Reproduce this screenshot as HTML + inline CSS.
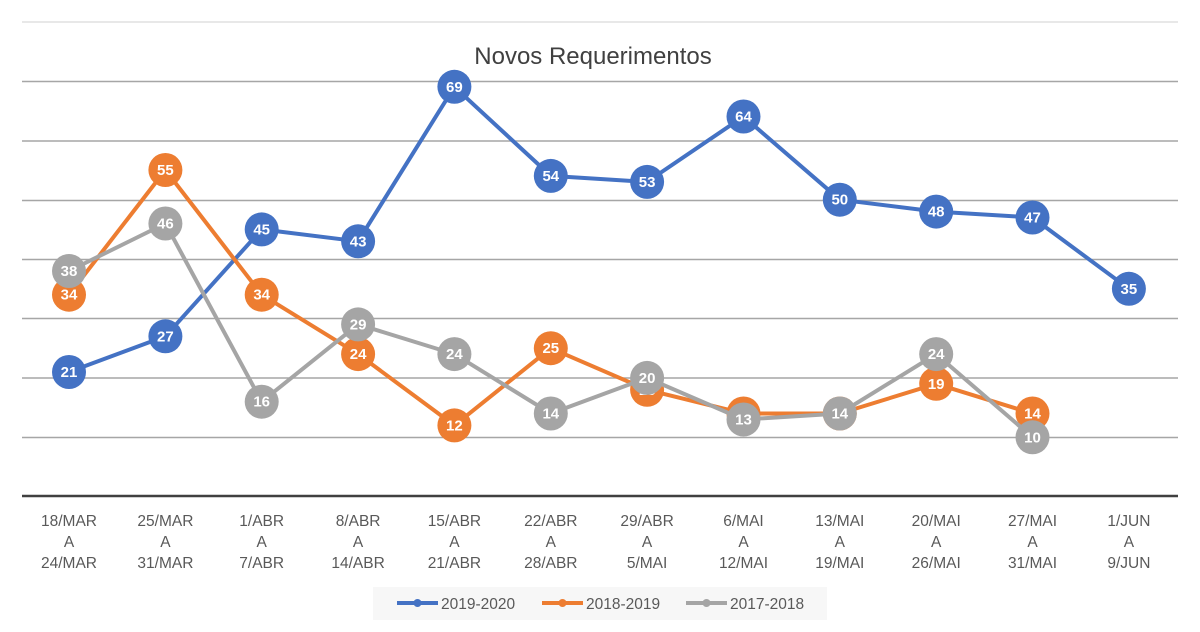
<!DOCTYPE html>
<html><head><meta charset="utf-8"><style>
body{margin:0;background:#fff;width:1200px;height:632px;overflow:hidden}
svg{display:block;font-family:"Liberation Sans",sans-serif}
.l{fill:#595959;font-size:15.5px;text-anchor:middle}
.d{fill:#fff;font-size:15px;font-weight:bold;text-anchor:middle}
</style></head><body>
<svg width="1200" height="632" viewBox="0 0 1200 632">
<g stroke="#d9d9d9" stroke-width="1.2">
<line x1="22" x2="1178" y1="22" y2="22"/>
</g>
<g stroke="#a6a6a6" stroke-width="1.5">
<line x1="22" x2="1178" y1="81.5" y2="81.5"/>
<line x1="22" x2="1178" y1="141" y2="141"/>
<line x1="22" x2="1178" y1="200.5" y2="200.5"/>
<line x1="22" x2="1178" y1="259.5" y2="259.5"/>
<line x1="22" x2="1178" y1="318.5" y2="318.5"/>
<line x1="22" x2="1178" y1="378" y2="378"/>
<line x1="22" x2="1178" y1="437.5" y2="437.5"/>
</g>
<line x1="22" x2="1178" y1="496" y2="496" stroke="#404040" stroke-width="2.5"/>
<text x="593" y="64" text-anchor="middle" font-size="24" fill="#404040">Novos Requerimentos</text>

<g class="l">
<text x="69" y="526">18/MAR</text><text x="69" y="547">A</text><text x="69" y="568">24/MAR</text>
<text x="165.4" y="526">25/MAR</text><text x="165.4" y="547">A</text><text x="165.4" y="568">31/MAR</text>
<text x="261.7" y="526">1/ABR</text><text x="261.7" y="547">A</text><text x="261.7" y="568">7/ABR</text>
<text x="358.1" y="526">8/ABR</text><text x="358.1" y="547">A</text><text x="358.1" y="568">14/ABR</text>
<text x="454.4" y="526">15/ABR</text><text x="454.4" y="547">A</text><text x="454.4" y="568">21/ABR</text>
<text x="550.8" y="526">22/ABR</text><text x="550.8" y="547">A</text><text x="550.8" y="568">28/ABR</text>
<text x="647.1" y="526">29/ABR</text><text x="647.1" y="547">A</text><text x="647.1" y="568">5/MAI</text>
<text x="743.5" y="526">6/MAI</text><text x="743.5" y="547">A</text><text x="743.5" y="568">12/MAI</text>
<text x="839.8" y="526">13/MAI</text><text x="839.8" y="547">A</text><text x="839.8" y="568">19/MAI</text>
<text x="936.2" y="526">20/MAI</text><text x="936.2" y="547">A</text><text x="936.2" y="568">26/MAI</text>
<text x="1032.5" y="526">27/MAI</text><text x="1032.5" y="547">A</text><text x="1032.5" y="568">31/MAI</text>
<text x="1128.9" y="526">1/JUN</text><text x="1128.9" y="547">A</text><text x="1128.9" y="568">9/JUN</text>
</g>

<!-- blue -->
<polyline fill="none" stroke="#4472C4" stroke-width="4" stroke-linejoin="round" points="69,372 165.4,336.3 261.7,229.4 358.1,241.3 454.4,86.8 550.8,175.9 647.1,181.9 743.5,116.5 839.8,199.7 936.2,211.6 1032.5,217.5 1128.9,288.8"/>
<g fill="#4472C4">
<circle cx="69" cy="372" r="17"/><circle cx="165.4" cy="336.3" r="17"/><circle cx="261.7" cy="229.4" r="17"/><circle cx="358.1" cy="241.3" r="17"/><circle cx="454.4" cy="86.8" r="17"/><circle cx="550.8" cy="175.9" r="17"/><circle cx="647.1" cy="181.9" r="17"/><circle cx="743.5" cy="116.5" r="17"/><circle cx="839.8" cy="199.7" r="17"/><circle cx="936.2" cy="211.6" r="17"/><circle cx="1032.5" cy="217.5" r="17"/><circle cx="1128.9" cy="288.8" r="17"/>
</g>
<g class="d">
<text x="69" y="377">21</text><text x="165.4" y="341.3">27</text><text x="261.7" y="234.4">45</text><text x="358.1" y="246.3">43</text><text x="454.4" y="91.8">69</text><text x="550.8" y="180.9">54</text><text x="647.1" y="186.9">53</text><text x="743.5" y="121.5">64</text><text x="839.8" y="204.7">50</text><text x="936.2" y="216.6">48</text><text x="1032.5" y="222.5">47</text><text x="1128.9" y="293.8">35</text>
</g>

<!-- orange -->
<polyline fill="none" stroke="#ED7D31" stroke-width="4" stroke-linejoin="round" points="69,294.7 165.4,170 261.7,294.7 358.1,354.1 454.4,425.4 550.8,348.2 647.1,389.8 743.5,413.5 839.8,413.5 936.2,383.8 1032.5,413.5"/>
<g fill="#ED7D31">
<circle cx="69" cy="294.7" r="17"/><circle cx="165.4" cy="170" r="17"/><circle cx="261.7" cy="294.7" r="17"/><circle cx="358.1" cy="354.1" r="17"/><circle cx="454.4" cy="425.4" r="17"/><circle cx="550.8" cy="348.2" r="17"/><circle cx="647.1" cy="389.8" r="17"/><circle cx="743.5" cy="413.5" r="17"/><circle cx="839.8" cy="413.5" r="17"/><circle cx="936.2" cy="383.8" r="17"/><circle cx="1032.5" cy="413.5" r="17"/>
</g>
<g class="d">
<text x="69" y="299.7">34</text><text x="165.4" y="175">55</text><text x="261.7" y="299.7">34</text><text x="358.1" y="359.1">24</text><text x="454.4" y="430.4">12</text><text x="550.8" y="353.2">25</text><text x="647.1" y="394.8">18</text><text x="743.5" y="418.5">14</text><text x="839.8" y="418.5">14</text><text x="936.2" y="388.8">19</text><text x="1032.5" y="418.5">14</text>
</g>

<!-- gray -->
<polyline fill="none" stroke="#A5A5A5" stroke-width="4" stroke-linejoin="round" points="69,271 165.4,223.5 261.7,401.7 358.1,324.4 454.4,354.1 550.8,413.5 647.1,377.9 743.5,419.5 839.8,413.5 936.2,354.1 1032.5,437.3"/>
<g fill="#A5A5A5">
<circle cx="69" cy="271" r="17"/><circle cx="165.4" cy="223.5" r="17"/><circle cx="261.7" cy="401.7" r="17"/><circle cx="358.1" cy="324.4" r="17"/><circle cx="454.4" cy="354.1" r="17"/><circle cx="550.8" cy="413.5" r="17"/><circle cx="647.1" cy="377.9" r="17"/><circle cx="743.5" cy="419.5" r="17"/><circle cx="839.8" cy="413.5" r="17"/><circle cx="936.2" cy="354.1" r="17"/><circle cx="1032.5" cy="437.3" r="17"/>
</g>
<g class="d">
<text x="69" y="276">38</text><text x="165.4" y="228.5">46</text><text x="261.7" y="406.7">16</text><text x="358.1" y="329.4">29</text><text x="454.4" y="359.1">24</text><text x="550.8" y="418.5">14</text><text x="647.1" y="382.9">20</text><text x="743.5" y="424.5">13</text><text x="839.8" y="418.5">14</text><text x="936.2" y="359.1">24</text><text x="1032.5" y="442.3">10</text>
</g>

<!-- legend -->
<rect x="373" y="587" width="454" height="33" fill="#f7f7f7"/>
<g stroke-width="4">
<line x1="397" x2="438" y1="603" y2="603" stroke="#4472C4"/><circle cx="417.5" cy="603" r="4" fill="#4472C4"/>
<line x1="542" x2="583" y1="603" y2="603" stroke="#ED7D31"/><circle cx="562.5" cy="603" r="4" fill="#ED7D31"/>
<line x1="686" x2="727" y1="603" y2="603" stroke="#A5A5A5"/><circle cx="706.5" cy="603" r="4" fill="#A5A5A5"/>
</g>
<g fill="#595959" font-size="15.5">
<text x="441" y="609">2019-2020</text>
<text x="586" y="609">2018-2019</text>
<text x="730" y="609">2017-2018</text>
</g>
</svg>
</body></html>
